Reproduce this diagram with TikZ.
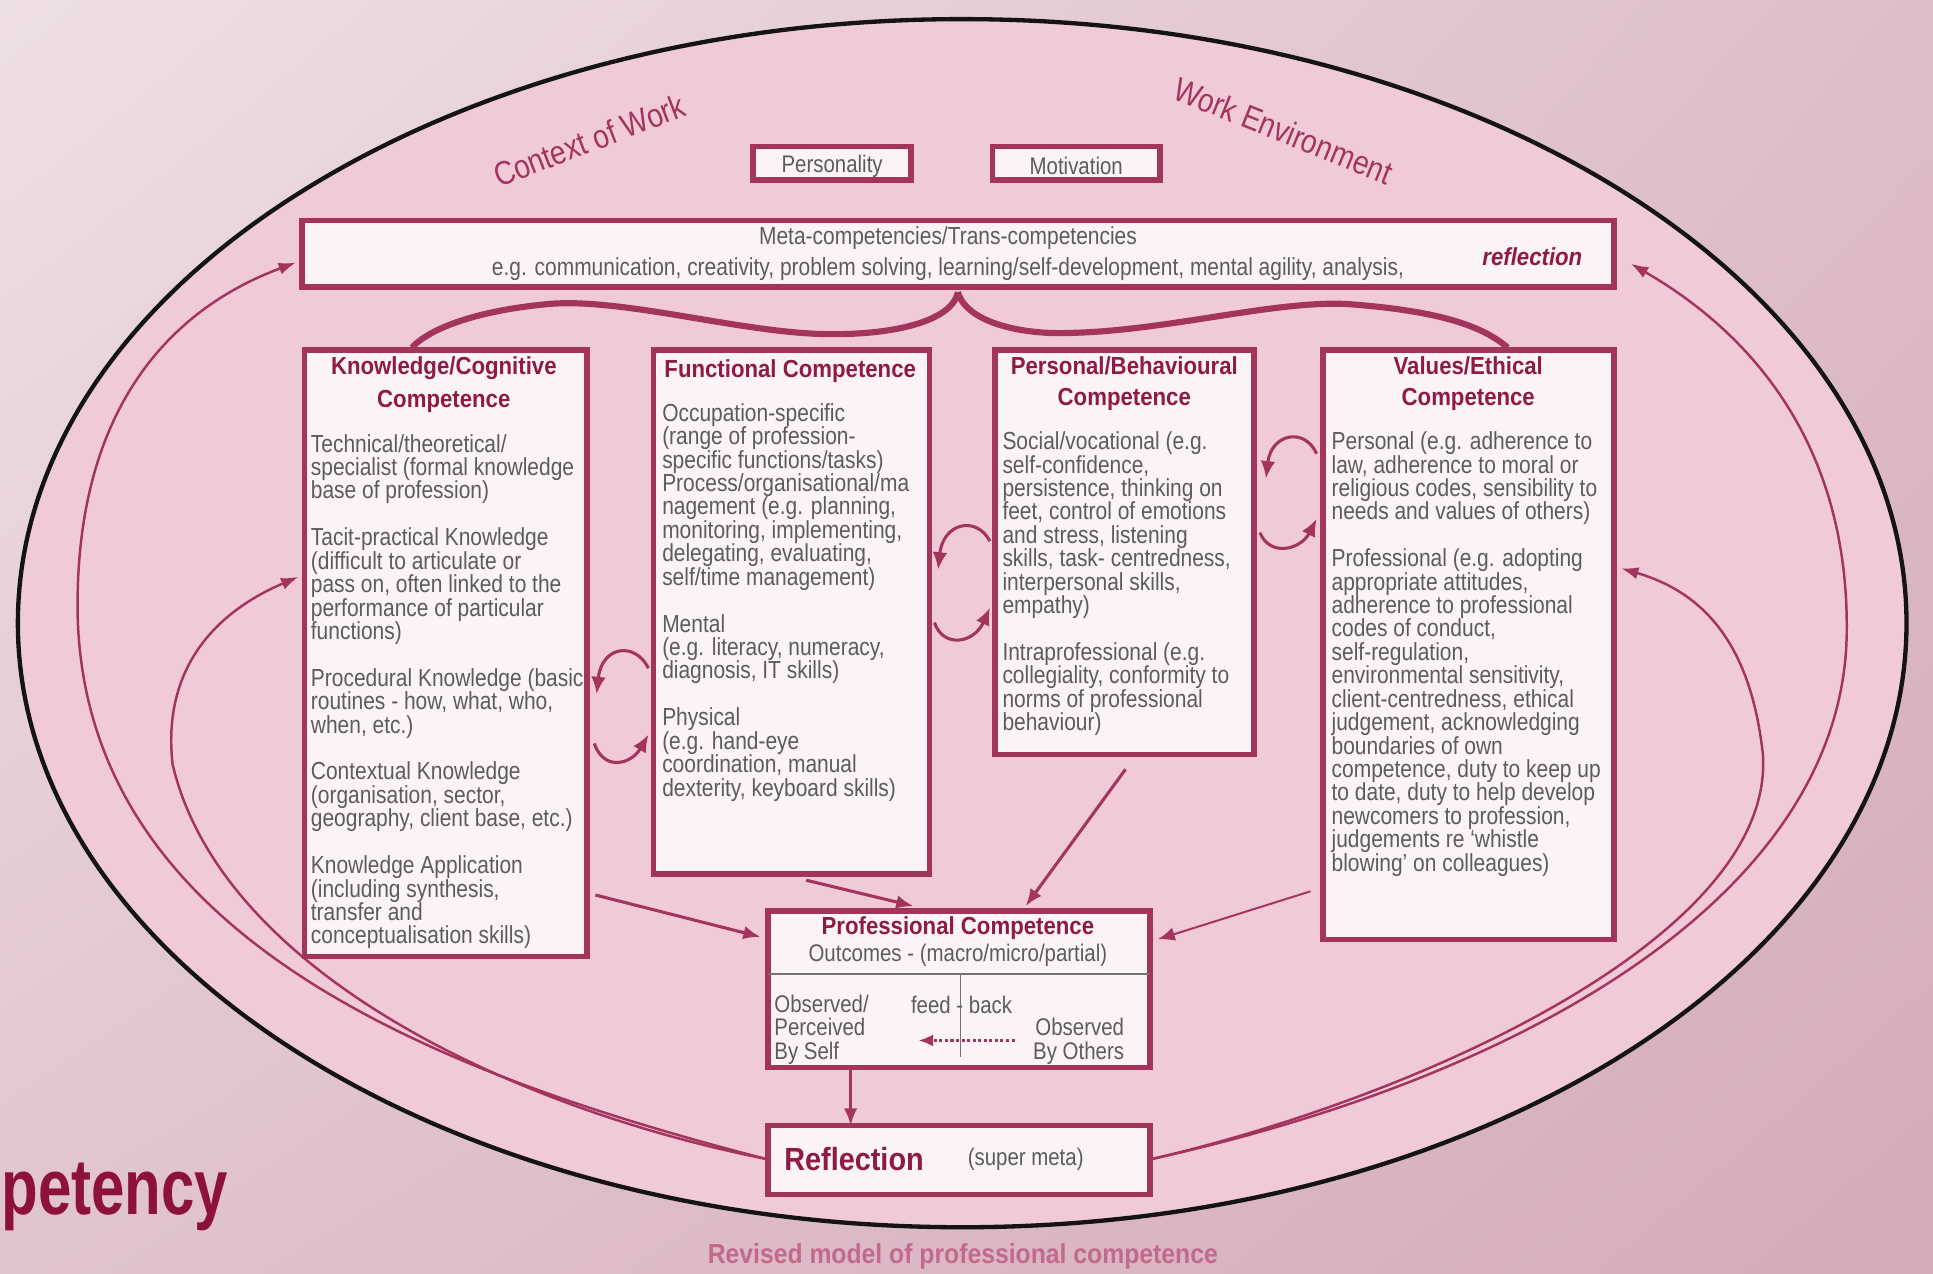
\documentclass[tikz,border=0pt]{standalone}
\usepackage{fontspec}
\setmainfont{Liberation Sans}[FakeStretch=0.85]
\newfontfamily\ttlfont{Liberation Sans}[FakeStretch=0.9]
\newfontfamily\bigfont{Liberation Sans}[FakeStretch=0.76]
\usetikzlibrary{arrows.meta,shadings}
\definecolor{bgUL}{HTML}{EEDFE4}
\definecolor{bgUR}{HTML}{DDBEC8}
\definecolor{bgLL}{HTML}{E0C4CE}
\definecolor{bgLR}{HTML}{D5AABA}
\definecolor{ellfill}{HTML}{F0CAD9}
\definecolor{brd}{HTML}{A3355D}
\definecolor{ttlc}{HTML}{8E1B45}
\definecolor{bodyc}{HTML}{5C5C5C}
\definecolor{boxfill}{HTML}{FCF3F7}
\definecolor{capc}{HTML}{C3698B}
\definecolor{bigc}{HTML}{8C1239}
\tikzset{
  box/.style={draw=brd, line width=4.5pt, fill=boxfill, inner sep=0pt, outer sep=0pt, anchor=north west},
  body/.style={text=bodyc, font=\fontsize{20}{19}\selectfont, align=left, inner sep=0pt, anchor=north west},
  small/.style={text=bodyc, font=\fontsize{19.5}{19}\selectfont, inner sep=0pt},
  ttl/.style={text=ttlc, font=\ttlfont\bfseries\fontsize{20}{27}\selectfont, align=center, inner sep=0pt},
  rot/.style={text=brd, font=\fontsize{27}{30}\selectfont, inner sep=0pt},
  link/.style={draw=brd, line width=2.5pt, -{Latex[length=14pt,width=11pt]}},
  looparrow/.style={draw=brd, line width=2.5pt, -{Latex[length=14pt,width=12pt]}},
  arc/.style={draw=brd, line width=2pt, -{Latex[length=14pt,width=10pt]}},
  bracel/.style={draw=brd, line width=5pt},
}
\begin{document}
\lineskiplimit=-50pt
\begin{tikzpicture}[x=1pt,y=-1pt]
\useasboundingbox (0,0) rectangle (1568,1033);
\shade[upper left=bgUL, upper right=bgUR, lower left=bgLL, lower right=bgLR] (0,0) rectangle (1568,1033);
\draw[line width=3.5pt, draw=black!92, fill=ellfill] (780.5,505.5) ellipse [x radius=766, y radius=490];

% rotated labels
\node[rot, rotate=21] (ctx) at (478,114) {Context of Work};
\node[rot, rotate=-22] (wenv) at (1041,106) {Work Environment};

% top boxes
\node[box, minimum width=128pt, minimum height=27pt] (pers) at (611,119) {};
\node[small] (perst) at ([yshift=-2pt]pers.center) {Personality};
\node[box, minimum width=136pt, minimum height=27pt] (mot) at (805,119) {};
\node[small] (mott) at ([yshift=-2pt]mot.center) {Motivation};

% meta box
\node[box, minimum width=1064pt, minimum height=54pt] (meta) at (245,179) {};
\node[small, align=center, font=\fontsize{20}{25}\selectfont] (metat) at (769,206) {Meta-competencies/Trans-competencies\\e.g. communication, creativity, problem solving, learning/self-development, mental agility, analysis,};
\node[text=ttlc, font=\ttlfont\bfseries\itshape\fontsize{20}{24}\selectfont, inner sep=0pt] (refl1) at (1243,208) {reflection};

% four competence boxes
\node[box, minimum width=229pt, minimum height=492pt] (kn) at (247,284) {};
\node[box, minimum width=224pt, minimum height=425pt] (fn) at (530,284) {};
\node[box, minimum width=210pt, minimum height=328pt] (pb) at (807,284) {};
\node[box, minimum width=236pt, minimum height=478pt] (ve) at (1073,284) {};

\node[ttl] (knt) at (360,312) {Knowledge/Cognitive\\Competence};
\node[ttl] (fnt) at (641,301) {Functional Competence};
\node[ttl, font=\ttlfont\bfseries\fontsize{20}{25}\selectfont] (pbt) at (912,311) {Personal/Behavioural\\Competence};
\node[ttl, font=\ttlfont\bfseries\fontsize{20}{25}\selectfont] (vet) at (1191,311) {Values/Ethical\\Competence};

\node[body] (knb) at (252,352) {Technical/theoretical/\\
specialist (formal knowledge\\
base of profession)\\[19pt]
Tacit-practical Knowledge\\
(difficult to articulate or\\
pass on, often linked to the\\
performance of particular\\
functions)\\[19pt]
Procedural Knowledge (basic\\
routines - how, what, who,\\
when, etc.)\\[19pt]
Contextual Knowledge\\
(organisation, sector,\\
geography, client base, etc.)\\[19pt]
Knowledge Application\\
(including synthesis,\\
transfer and\\
conceptualisation skills)};

\node[body] (fnb) at (537,327) {Occupation-specific\\
(range of profession-\\
specific functions/tasks)\\
Process/organisational/ma\\
nagement (e.g. planning,\\
monitoring, implementing,\\
delegating, evaluating,\\
self/time management)\\[19pt]
Mental\\
(e.g. literacy, numeracy,\\
diagnosis, IT skills)\\[19pt]
Physical\\
(e.g. hand-eye\\
coordination, manual\\
dexterity, keyboard skills)};

\node[body] (pbb) at (813,350) {Social/vocational (e.g.\\
self-confidence,\\
persistence, thinking on\\
feet, control of emotions\\
and stress, listening\\
skills, task- centredness,\\
interpersonal skills,\\
empathy)\\[19pt]
Intraprofessional (e.g.\\
collegiality, conformity to\\
norms of professional\\
behaviour)};

\node[body] (veb) at (1080,350) {Personal (e.g. adherence to\\
law, adherence to moral or\\
religious codes, sensibility to\\
needs and values of others)\\[19pt]
Professional (e.g. adopting\\
appropriate attitudes,\\
adherence to professional\\
codes of conduct,\\
self-regulation,\\
environmental sensitivity,\\
client-centredness, ethical\\
judgement, acknowledging\\
boundaries of own\\
competence, duty to keep up\\
to date, duty to help develop\\
newcomers to profession,\\
judgements re ‘whistle\\
blowing’ on colleagues)};

% professional competence box
\node[box, minimum width=310pt, minimum height=127pt] (pc) at (623,739) {};
\node[ttl] (pct) at (777,753) {Professional Competence};
\node[small] (pco) at (777,775) {Outcomes - (macro/micro/partial)};
\draw[draw=black!55, line width=1.3pt] (623,790) -- (933,790);
\draw[draw=black!55, line width=1pt] (779,790) -- (779,857);
\node[small, align=left, anchor=north west] (self) at (628,807) {Observed/\\Perceived\\By Self};
\node[small] (fb) at (780,815) {feed - back};
\node[small, align=right, anchor=north east] (oth) at (912,826) {Observed\\By Others};
\coordinate (dotS) at (823,844);
\coordinate (dotE) at (745,844);
\draw[draw=brd, line width=2.5pt, dotted, -{Latex[length=12pt,width=10pt]}] (dotS) -- (dotE);

% reflection box
\node[box, minimum width=310pt, minimum height=56pt] (rf) at (623,913) {};
\node[text=ttlc, font=\ttlfont\bfseries\fontsize{26}{30}\selectfont, inner sep=0pt, anchor=west] (rft) at (636,940) {Reflection};
\node[small] (rfs) at (832,940) {(super meta)};

% caption and cut title
\node[text=capc, font=\ttlfont\bfseries\fontsize{22.3}{26}\selectfont, inner sep=0pt] (cap) at (781,1019) {Revised model of professional competence};
\node[text=bigc, font=\bigfont\bfseries\fontsize{64}{70}\selectfont, inner sep=0pt, anchor=base west] (bigt) at (1,985) {petency};

% brace
\coordinate (brT) at (777,237);
\coordinate (brL) at (334,282);
\coordinate (brR) at (1223,282);
\draw[bracel] (brT) .. controls (772,262) and (720,272) .. (670,271) .. controls (600,270) and (500,240) .. (441,247) .. controls (390,252) and (350,265) .. (brL);
\draw[bracel] (brT) .. controls (784,262) and (830,272) .. (870,270) .. controls (950,268) and (1040,242) .. (1098,247) .. controls (1160,252) and (1200,262) .. (brR);

% big arcs
\coordinate (rfL) at (621,940);
\coordinate (rfR) at (935,940);
\coordinate (metaL) at (240,213);
\coordinate (metaR) at (1323,214);
\coordinate (knL) at (242,468);
\coordinate (veR) at (1315,461);
\draw[arc] (rfL) .. controls (350,870) and (70,760) .. (63,500) .. controls (60,330) and (140,250) .. (metaL);
\draw[arc] (rfL) .. controls (420,900) and (180,790) .. (140,620) .. controls (130,530) and (190,490) .. (knL);
\draw[arc] (rfR) .. controls (1250,870) and (1495,720) .. (1498,514) .. controls (1500,360) and (1420,270) .. (metaR);
\draw[arc] (rfR) .. controls (1150,890) and (1440,760) .. (1430,612) .. controls (1420,520) and (1380,480) .. (veR);

% loop arrows between boxes
\draw[looparrow] (526,542) .. controls (515,520) and (488,524) .. (484,563);
\draw[looparrow] (482,603) .. controls (490,626) and (512,620) .. (526,596);
\draw[looparrow] (803,439) .. controls (792,418) and (765,424) .. (761,462);
\draw[looparrow] (758,505) .. controls (765,526) and (790,522) .. (803,493);
\draw[looparrow] (1068,368) .. controls (1058,346) and (1031,352) .. (1027,388);
\draw[looparrow] (1022,432) .. controls (1030,452) and (1055,446) .. (1068,421);

% straight arrows into professional competence
\coordinate (k1) at (483,726);
\coordinate (k2) at (617,760);
\coordinate (f1) at (654,714);
\coordinate (f2) at (741,735);
\coordinate (p1) at (913,624);
\coordinate (p2) at (832,735);
\coordinate (v1) at (1063,723);
\coordinate (v2) at (939,762);
\draw[link] (k1) -- (k2);
\draw[link] (f1) -- (f2);
\draw[link] (p1) -- (p2);
\draw[link, line width=1.6pt] (v1) -- (v2);
\draw[link] (pc.south -| 690,0) -- (rf.north -| 690,0);
\end{tikzpicture}
\end{document}
